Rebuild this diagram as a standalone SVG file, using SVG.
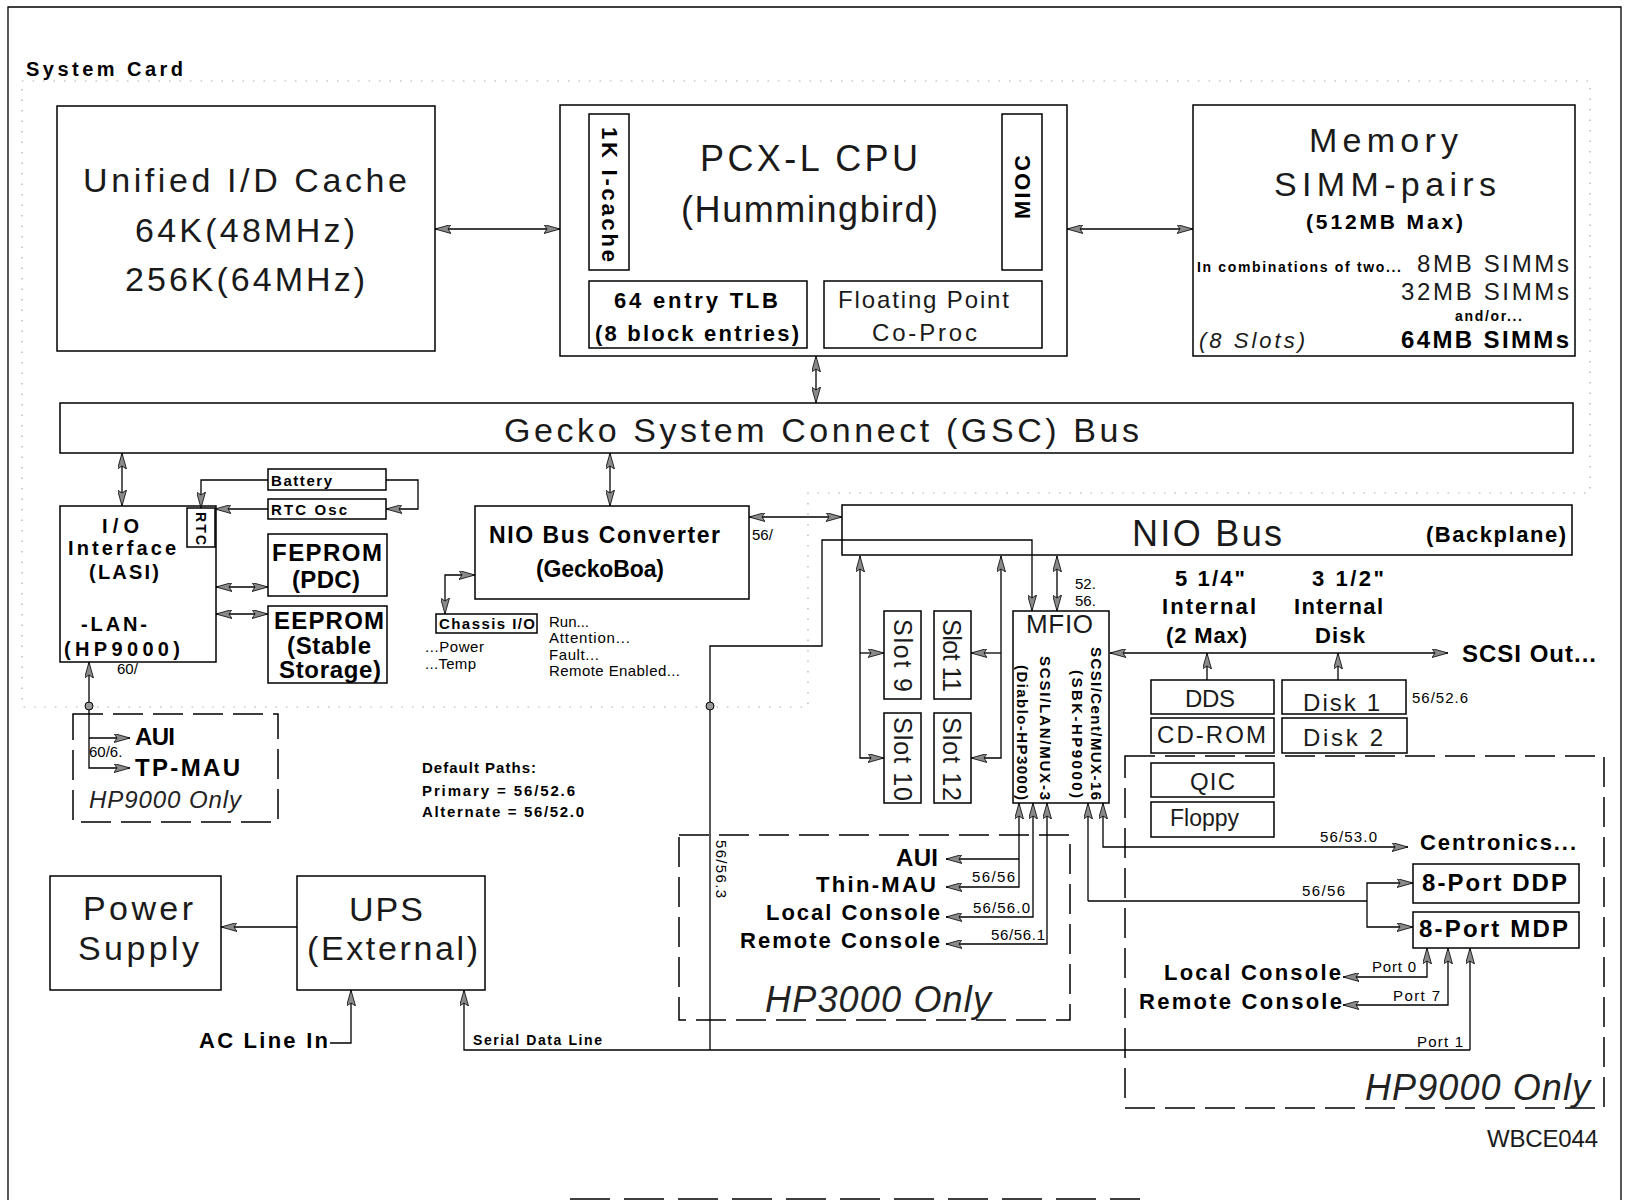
<svg xmlns="http://www.w3.org/2000/svg" width="1627" height="1202" viewBox="0 0 1627 1202">
<defs>
<marker id="ah" viewBox="0 0 16 9" refX="16" refY="4.5" markerWidth="16" markerHeight="9" markerUnits="userSpaceOnUse" orient="auto-start-reverse">
<path d="M0,0 L16,4.5 L0,9 L3,4.5 Z" fill="#8a8a8a" stroke="#000" stroke-width="0.8"/>
</marker>
</defs>
<style>
.box{fill:none;stroke:#000;stroke-width:1.5}
.dash{fill:none;stroke:#000;stroke-width:1.5;stroke-dasharray:30 10}
.dot{fill:none;stroke:#aaa;stroke-width:1.2;stroke-dasharray:1.5 9}
.c{fill:none;stroke:#000;stroke-width:1.3}
.ba{marker-end:url(#ah)}
.bb{marker-start:url(#ah);marker-end:url(#ah)}
text{font-family:"Liberation Sans",Arial,sans-serif;fill:#000}
.o{font-weight:normal;fill:#1a1a1a}
.b{font-weight:bold}
.s{font-size:15px;font-weight:normal}
.it{font-style:italic;font-weight:300;fill:#222}
</style>
<rect x="0" y="0" width="1627" height="1202" fill="#fff"/>
<g id="frame">
<path class="c" d="M8,1200 V7 H1621 V1200" stroke-width="2"/>
<path class="c" d="M570,1199 H1140" stroke-dasharray="40 14"/>
</g>
<g id="system-card-boundary">
<path class="dot" d="M22,81 H1590 V493 H808 V707 H22 Z"/>
<text x="26" y="76" class="b" font-size="20" textLength="157">System Card</text>
</g>

<g id="cache">
<rect class="box" x="57" y="106" width="378" height="245"/>
<text x="83" y="192" class="o" font-size="34" textLength="324">Unified I/D Cache</text>
<text x="135" y="242" class="o" font-size="34" textLength="220">64K(48MHz)</text>
<text x="125" y="291" class="o" font-size="34" textLength="240">256K(64MHz)</text>
</g>

<g id="cpu">
<rect class="box" x="560" y="105" width="507" height="251"/>
<text x="700" y="171" class="o" font-size="36" textLength="218">PCX-L CPU</text>
<text x="681" y="222" class="o" font-size="36" textLength="257">(Hummingbird)</text>
</g>
<g id="icache">
<rect class="box" x="589" y="114" width="40" height="156"/>
<text transform="translate(609,127) rotate(90)" dominant-baseline="central" class="b" font-size="22" textLength="135">1K I-cache</text>
</g>
<g id="mioc">
<rect class="box" x="1002" y="114" width="40" height="156"/>
<text transform="translate(1022,219) rotate(-90)" dominant-baseline="central" class="b" font-size="22" textLength="64">MIOC</text>
</g>
<g id="tlb">
<rect class="box" x="589" y="281" width="218" height="67"/>
<text x="614" y="308" class="b" font-size="22" textLength="164">64 entry TLB</text>
<text x="595" y="341" class="b" font-size="22" textLength="204">(8 block entries)</text>
</g>
<g id="fpu">
<rect class="box" x="824" y="281" width="218" height="67"/>
<text x="838" y="308" class="o" font-size="24" textLength="171">Floating Point</text>
<text x="872" y="341" class="o" font-size="24" textLength="105">Co-Proc</text>
</g>

<g id="memory">
<rect class="box" x="1193" y="105" width="382" height="251"/>
<text x="1309" y="152" class="o" font-size="34" textLength="149">Memory</text>
<text x="1274" y="196" class="o" font-size="34" textLength="222">SIMM-pairs</text>
<text x="1306" y="229" class="b" font-size="21" textLength="157">(512MB Max)</text>
<text x="1197" y="272" class="b" font-size="14" textLength="204">In combinations of two...</text>
<text x="1417" y="272" class="o" font-size="24" textLength="152">8MB SIMMs</text>
<text x="1401" y="300" class="o" font-size="24" textLength="168">32MB SIMMs</text>
<text x="1455" y="321" class="b" font-size="14" textLength="67">and/or...</text>
<text x="1401" y="348" class="b" font-size="24" textLength="168">64MB SIMMs</text>
<text x="1199" y="348" class="o" font-size="22" font-style="italic" textLength="106">(8 Slots)</text>
</g>

<g id="gsc-bus">
<rect class="box" x="60" y="403" width="1513" height="50"/>
<text x="504" y="442" class="o" font-size="34" textLength="635">Gecko System Connect (GSC) Bus</text>
</g>

<g id="io-interface">
<rect class="box" x="60" y="506" width="156" height="156"/>
<text x="102" y="533" class="b" font-size="20" textLength="37">I/O</text>
<text x="68" y="555" class="b" font-size="20" textLength="108">Interface</text>
<text x="89" y="579" class="b" font-size="20" textLength="70">(LASI)</text>
<text x="81" y="631" class="b" font-size="20" textLength="66">-LAN-</text>
<text x="64" y="656" class="b" font-size="20" textLength="116">(HP9000)</text>
<text x="117" y="674" class="s" font-size="15">60/</text>
</g>
<g id="rtc">
<rect class="box" x="187" y="508" width="28" height="39"/>
<text transform="translate(201,512) rotate(90)" dominant-baseline="central" class="b" font-size="14" textLength="33">RTC</text>
</g>
<g id="battery">
<rect class="box" x="268" y="469" width="118" height="21"/>
<text x="271" y="486" class="b" font-size="15" textLength="61">Battery</text>
</g>
<g id="rtc-osc">
<rect class="box" x="268" y="499" width="118" height="20"/>
<text x="271" y="515" class="b" font-size="15" textLength="76">RTC Osc</text>
</g>
<g id="feprom">
<rect class="box" x="268" y="534" width="119" height="62"/>
<text x="272" y="561" class="b" font-size="24" textLength="110">FEPROM</text>
<text x="292" y="588" class="b" font-size="24" textLength="68">(PDC)</text>
</g>
<g id="eeprom">
<rect class="box" x="268" y="606" width="119" height="77"/>
<text x="274" y="629" class="b" font-size="24" textLength="110">EEPROM</text>
<text x="287" y="654" class="b" font-size="24" textLength="84">(Stable</text>
<text x="279" y="678" class="b" font-size="24" textLength="102">Storage)</text>
</g>
<g id="lan-hp9000">
<rect class="dash" x="73" y="714" width="205" height="108"/>
<text x="135" y="745" class="b" font-size="24" textLength="40">AUI</text>
<text x="135" y="776" class="b" font-size="24" textLength="105">TP-MAU</text>
<text x="89" y="757" class="s">60/6.</text>
<text x="89" y="808" class="it" font-size="24" textLength="152">HP9000 Only</text>
</g>

<g id="nio-converter">
<rect class="box" x="475" y="506" width="274" height="93"/>
<text x="489" y="543" class="b" font-size="23" textLength="231">NIO Bus Converter</text>
<text x="536" y="577" class="b" font-size="23" textLength="128">(GeckoBoa)</text>
<text x="752" y="540" class="s">56/</text>
</g>
<g id="chassis-io">
<rect class="box" x="436" y="614" width="101" height="19"/>
<text x="439" y="629" class="b" font-size="15" textLength="96">Chassis I/O</text>
<text x="425" y="652" class="s" textLength="59">...Power</text>
<text x="425" y="669" class="s" textLength="51">...Temp</text>
<text x="549" y="627" class="s" textLength="40">Run...</text>
<text x="549" y="643" class="s" textLength="81">Attention...</text>
<text x="549" y="660" class="s" textLength="50">Fault...</text>
<text x="549" y="676" class="s" textLength="131">Remote Enabled...</text>
</g>
<g id="default-paths">
<text x="422" y="773" class="b" font-size="15" textLength="114">Default Paths:</text>
<text x="422" y="796" class="b" font-size="15" textLength="153">Primary = 56/52.6</text>
<text x="422" y="817" class="b" font-size="15" textLength="162">Alternate = 56/52.0</text>
</g>

<g id="nio-bus">
<rect class="box" x="842" y="505" width="730" height="50"/>
<text x="1132" y="546" class="o" font-size="36" textLength="150">NIO Bus</text>
<text x="1426" y="542" class="b" font-size="22" textLength="140">(Backplane)</text>
</g>
<g id="slot9">
<rect class="box" x="884" y="611" width="37" height="88"/>
<text transform="translate(903,619) rotate(90)" dominant-baseline="central" class="o" font-size="25" textLength="73">Slot 9</text>
</g>
<g id="slot10">
<rect class="box" x="884" y="713" width="37" height="90"/>
<text transform="translate(903,717) rotate(90)" dominant-baseline="central" class="o" font-size="25" textLength="84">Slot 10</text>
</g>
<g id="slot11">
<rect class="box" x="934" y="611" width="37" height="88"/>
<text transform="translate(952,619) rotate(90)" dominant-baseline="central" class="o" font-size="25" textLength="73">Slot 11</text>
</g>
<g id="slot12">
<rect class="box" x="934" y="713" width="37" height="90"/>
<text transform="translate(952,717) rotate(90)" dominant-baseline="central" class="o" font-size="25" textLength="84">Slot 12</text>
</g>
<g id="mfio">
<rect class="box" x="1013" y="611" width="96" height="192"/>
<text x="1026" y="633" class="o" font-size="26" textLength="67">MFIO</text>
<text transform="translate(1022,665) rotate(90)" dominant-baseline="central" class="b" font-size="15" textLength="135">(Diablo-HP3000)</text>
<text transform="translate(1045,656) rotate(90)" dominant-baseline="central" class="b" font-size="15" textLength="144">SCSI/LAN/MUX-3</text>
<text transform="translate(1077,670) rotate(90)" dominant-baseline="central" class="b" font-size="15" textLength="128">(SBK-HP9000)</text>
<text transform="translate(1096,647) rotate(90)" dominant-baseline="central" class="b" font-size="15" textLength="153">SCSI/Cent/MUX-16</text>
<text x="1075" y="589" class="s">52.</text>
<text x="1075" y="606" class="s">56.</text>
</g>

<g id="scsi-labels">
<text x="1175" y="586" class="b" font-size="22" textLength="70">5 1/4"</text>
<text x="1162" y="614" class="b" font-size="22" textLength="94">Internal</text>
<text x="1166" y="643" class="b" font-size="22" textLength="81">(2 Max)</text>
<text x="1312" y="586" class="b" font-size="22" textLength="72">3 1/2"</text>
<text x="1294" y="614" class="b" font-size="22" textLength="89">Internal</text>
<text x="1315" y="643" class="b" font-size="22" textLength="50">Disk</text>
<text x="1462" y="662" class="b" font-size="24" textLength="134">SCSI Out...</text>
<text x="1412" y="703" class="s" textLength="56">56/52.6</text>
</g>
<g id="dds">
<rect class="box" x="1151" y="680" width="123" height="34"/>
<text x="1185" y="707" class="o" font-size="24" textLength="50">DDS</text>
</g>
<g id="cdrom">
<rect class="box" x="1151" y="718" width="123" height="35"/>
<text x="1157" y="743" class="o" font-size="24" textLength="109">CD-ROM</text>
</g>
<g id="disk1">
<rect class="box" x="1282" y="680" width="124" height="34"/>
<text x="1303" y="711" class="o" font-size="24" textLength="77">Disk 1</text>
</g>
<g id="disk2">
<rect class="box" x="1282" y="718" width="125" height="35"/>
<text x="1303" y="746" class="o" font-size="24" textLength="80">Disk 2</text>
</g>

<g id="hp9000-only">
<rect class="dash" x="1125" y="756" width="479" height="352"/>
<text x="1365" y="1100" class="it" font-size="36" textLength="225">HP9000 Only</text>
<text x="1420" y="850" class="b" font-size="22" textLength="156">Centronics...</text>
<text x="1320" y="842" class="s" textLength="57">56/53.0</text>
<text x="1302" y="896" class="s" textLength="43">56/56</text>
<text x="1164" y="980" class="b" font-size="22" textLength="177">Local Console</text>
<text x="1139" y="1009" class="b" font-size="22" textLength="203">Remote Console</text>
<text x="1372" y="972" class="s" textLength="44">Port 0</text>
<text x="1393" y="1001" class="s" textLength="47">Port 7</text>
<text x="1417" y="1047" class="s" textLength="46">Port 1</text>
</g>
<g id="qic">
<rect class="box" x="1151" y="763" width="123" height="34"/>
<text x="1190" y="790" class="o" font-size="24" textLength="45">QIC</text>
</g>
<g id="floppy">
<rect class="box" x="1151" y="802" width="123" height="35"/>
<text x="1170" y="826" class="o" font-size="23" textLength="69">Floppy</text>
</g>
<g id="ddp">
<rect class="box" x="1413" y="864" width="166" height="39"/>
<text x="1422" y="891" class="b" font-size="24" textLength="145">8-Port DDP</text>
</g>
<g id="mdp">
<rect class="box" x="1413" y="912" width="166" height="36"/>
<text x="1419" y="937" class="b" font-size="24" textLength="149">8-Port MDP</text>
</g>

<g id="hp3000-only">
<rect class="dash" x="679" y="835" width="391" height="185"/>
<text x="896" y="866" class="b" font-size="24" textLength="42">AUI</text>
<text x="816" y="892" class="b" font-size="22" textLength="120">Thin-MAU</text>
<text x="766" y="920" class="b" font-size="22" textLength="174">Local Console</text>
<text x="740" y="948" class="b" font-size="22" textLength="200">Remote Console</text>
<text x="972" y="882" class="s" textLength="43">56/56</text>
<text x="973" y="913" class="s" textLength="57">56/56.0</text>
<text x="991" y="940" class="s" textLength="54">56/56.1</text>
<text x="765" y="1012" class="it" font-size="36" textLength="226">HP3000 Only</text>
<text transform="translate(721,840) rotate(90)" dominant-baseline="central" class="s" textLength="58">56/56.3</text>
</g>

<g id="power-supply">
<rect class="box" x="50" y="876" width="171" height="114"/>
<text x="83" y="920" class="o" font-size="34" textLength="110">Power</text>
<text x="78" y="960" class="o" font-size="34" textLength="121">Supply</text>
</g>
<g id="ups">
<rect class="box" x="297" y="876" width="188" height="114"/>
<text x="349" y="921" class="o" font-size="34" textLength="74">UPS</text>
<text x="307" y="960" class="o" font-size="34" textLength="171">(External)</text>
</g>
<g id="power-labels">
<text x="199" y="1048" class="b" font-size="22" textLength="129">AC Line In</text>
<text x="473" y="1045" class="b" font-size="14" textLength="129">Serial Data Line</text>
<text x="1487" y="1147" class="o" font-size="24" font-weight="300" textLength="111">WBCE044</text>
</g>

<g id="connectors">
<path class="c bb" d="M435,229 H560"/>
<path class="c bb" d="M1067,229 H1193"/>
<path class="c bb" d="M816,356 V403"/>
<path class="c bb" d="M122,453 V506"/>
<path class="c bb" d="M610,453 V506"/>
<path class="c bb" d="M749,517 H842"/>
<path class="c bb" d="M475,575 H445 V614"/>
<path class="c ba" d="M268,480 H201 V508"/>
<path class="c ba" d="M386,480 H418 V509 H386"/>
<path class="c ba" d="M268,509 H215"/>
<path class="c bb" d="M216,587 H268"/>
<path class="c bb" d="M216,614 H268"/>
<path class="c ba" d="M89,706 V662"/>
<path class="c ba" d="M89,706 V768 H130"/>
<path class="c ba" d="M89,738 H130"/>
<circle cx="89" cy="706" r="4" fill="#999" stroke="#000" stroke-width="1"/>
<path class="c bb" d="M860,556 V758 H884"/>
<path class="c ba" d="M860,653 H884"/>
<path class="c bb" d="M1001,556 V758 H971"/>
<path class="c ba" d="M1001,653 H971"/>
<path class="c bb" d="M1057,556 V611"/>
<path class="c ba" d="M710,1050 V646 H822 V540 H1032 V611"/>
<circle cx="710" cy="706" r="4" fill="#999" stroke="#000" stroke-width="1"/>
<path class="c ba" d="M1470,1050 H464 V990"/>
<path class="c ba" d="M1470,1050 V948"/>
<path class="c bb" d="M946,887 H1019 V803"/>
<path class="c ba" d="M1019,859 H946"/>
<path class="c bb" d="M946,917 H1033 V803"/>
<path class="c bb" d="M946,944 H1047 V803"/>
<path class="c bb" d="M1103,803 V847 H1408"/>
<path class="c" d="M1088,901 H1367"/>
<path class="c ba" d="M1088,901 V803"/>
<path class="c bb" d="M1413,883 H1367 V927 H1413"/>
<path class="c bb" d="M1343,977 H1427 V948"/>
<path class="c bb" d="M1343,1005 H1448 V948"/>
<path class="c bb" d="M1110,653 H1448"/>
<path class="c ba" d="M1207,680 V653"/>
<path class="c ba" d="M1338,680 V653"/>
<path class="c ba" d="M297,927 H221"/>
<path class="c ba" d="M330,1043 H351 V990"/>
</g>
</svg>
